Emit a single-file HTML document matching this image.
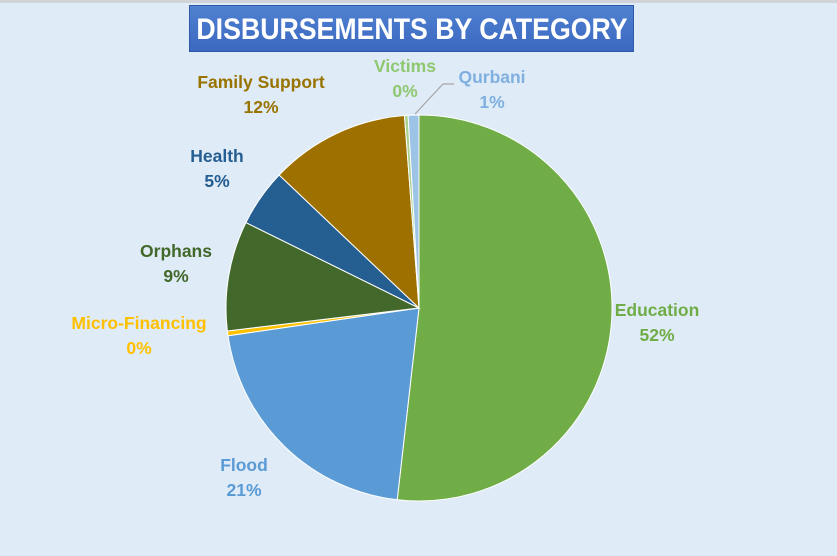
<!DOCTYPE html>
<html><head><meta charset="utf-8"><style>
html,body{margin:0;padding:0;}
body{width:837px;height:556px;background:#dfebf7;overflow:hidden;position:relative;font-family:"Liberation Sans",sans-serif;}
.top{position:absolute;left:0;top:0;width:837px;height:3px;background:#d0d4d8;}
.title{position:absolute;left:189px;top:5px;width:445px;height:47px;background:linear-gradient(#4f81d0,#3b68c0);border:1px solid #2f58a8;box-sizing:border-box;}
.title span{position:absolute;left:50%;top:0;transform:translateX(-50%) scaleX(0.89);white-space:nowrap;color:#fff;font-weight:bold;font-size:30px;line-height:47px;}
.l{position:absolute;font-weight:bold;font-size:17.5px;text-align:center;line-height:25px;transform:translateX(-50%);white-space:nowrap;}
</style></head><body>
<div class="top"></div>
<div class="title"><span>DISBURSEMENTS BY CATEGORY</span></div>
<svg id="s" width="837" height="556" style="position:absolute;left:0;top:0"></svg>
<div class="l" style="left:657px;top:298px;color:#70ad47">Education<br>52%</div>
<div class="l" style="left:244px;top:453px;color:#5b9bd5">Flood<br>21%</div>
<div class="l" style="left:139px;top:311px;color:#ffc000">Micro-Financing<br>0%</div>
<div class="l" style="left:176px;top:239px;color:#43682b">Orphans<br>9%</div>
<div class="l" style="left:217px;top:144px;color:#255e91">Health<br>5%</div>
<div class="l" style="left:261px;top:70px;color:#997300">Family Support<br>12%</div>
<div class="l" style="left:405px;top:54px;color:#8fc870">Victims<br>0%</div>
<div class="l" style="left:492px;top:65px;color:#7fb0e0">Qurbani<br>1%</div>
<script>
var cx=419,cy=308,r=193;
var d=[[51.8,"#70ad47"],[20.9,"#5b9bd5"],[0.4,"#ffc000"],[9.2,"#43682b"],[4.8,"#255e91"],[11.7,"#9e7000"],[0.3,"#a9d18e"],[0.9,"#9dc3e6"]];
var s=document.getElementById("s"),a=0,h="";
function p(t){return [cx+r*Math.sin(t),cy-r*Math.cos(t)];}
d.forEach(function(x){var b=a+x[0]/100*2*Math.PI,p1=p(a),p2=p(b);
h+='<path d="M'+cx+','+cy+'L'+p1[0]+','+p1[1]+'A'+r+','+r+' 0 '+((b-a)>Math.PI?1:0)+' 1 '+p2[0]+','+p2[1]+'Z" fill="'+x[1]+'" stroke="#fff" stroke-width="1"/>';a=b;});
h+='<polyline points="415,114 443,84 454,84" fill="none" stroke="#a6a6a6" stroke-width="1.2"/>';
s.innerHTML=h;
</script>
</body></html>
